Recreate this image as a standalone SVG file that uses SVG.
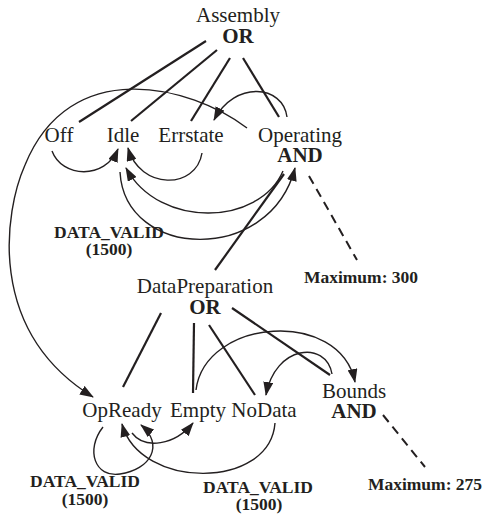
<svg xmlns="http://www.w3.org/2000/svg" width="486" height="516" viewBox="0 0 486 516">
<style>
text{font-family:"Liberation Serif","Times New Roman",serif;fill:#231f20;text-anchor:middle}
.n{font-size:21px}
.b{font-size:21px;font-weight:bold}
.a{font-size:17.5px;font-weight:bold}
.t{fill:none;stroke:#231f20;stroke-width:2.2}
.c{fill:none;stroke:#231f20;stroke-width:1.4}
.arr{marker-end:url(#ah)}
.d{fill:none;stroke:#231f20;stroke-width:2;stroke-dasharray:9 6}
</style>
<defs>
<marker id="ah" viewBox="0 0 14 10" refX="13" refY="5" markerWidth="14" markerHeight="10" markerUnits="userSpaceOnUse" orient="auto">
<path d="M0,0 L14,5 L0,10 Z" fill="#231f20"/>
</marker>
</defs>
<rect width="486" height="516" fill="#fff"/>
<g id="connectors">
<line class="t" x1="206" y1="41" x2="79" y2="122"/>
<line class="t" x1="217" y1="50" x2="131" y2="121"/>
<line class="t" x1="230" y1="58" x2="191" y2="121"/>
<line class="t" x1="243" y1="58" x2="279" y2="117"/>
<path class="c arr" d="M247,128 C190,85 70,55 25,165 C5,210 -15,330 93,397"/>
<path class="c arr" d="M287,117 C283,85 235,80 214,120"/>
<path class="c arr" d="M52,151 C62,178 105,180 118,149"/>
<path class="c arr" d="M202,153 C196,190 140,190 128,148"/>
<path class="c arr" d="M283,171 C260,225 160,230 126,168"/>
<path class="c arr" d="M120,172 C125,260 270,265 295,168"/>
<line class="t" x1="215" y1="270" x2="284" y2="174"/>
<line class="d" x1="309" y1="176" x2="357" y2="260"/>
<line class="t" x1="161" y1="313" x2="123" y2="387"/>
<line class="t" x1="194" y1="323" x2="193" y2="393"/>
<line class="t" x1="209" y1="325" x2="255" y2="395"/>
<line class="t" x1="232" y1="308" x2="330" y2="375"/>
<path class="c arr" d="M196,390 C205,318 340,308 355,382"/>
<path class="c arr" d="M332,374 C326,340 275,345 266,395"/>
<path class="c arr" d="M275,423 C270,490 140,490 122,424"/>
<path class="c arr" d="M103,427 C85,450 95,478 120,474 C150,470 165,445 141,425"/>
<path class="c arr" d="M132,433 C145,450 175,445 193,423"/>
<line class="d" x1="383" y1="415" x2="425" y2="467"/>
</g>
<g id="assembly"><text class="n" x="238" y="22">Assembly</text><text class="b" x="238" y="43">OR</text></g>
<g id="off"><text class="n" x="59" y="142">Off</text></g>
<g id="idle"><text class="n" x="123" y="142">Idle</text></g>
<g id="errstate"><text class="n" x="191" y="142">Errstate</text></g>
<g id="operating"><text class="n" x="300" y="142">Operating</text><text class="b" x="300" y="162">AND</text></g>
<g id="label1"><text class="a" x="109" y="238">DATA_VALID</text><text class="a" x="109" y="255">(1500)</text></g>
<g id="max300"><text class="a" x="361" y="283">Maximum: 300</text></g>
<g id="datapreparation"><text class="n" x="205" y="293">DataPreparation</text><text class="b" x="205" y="314">OR</text></g>
<g id="opready"><text class="n" x="122" y="417">OpReady</text></g>
<g id="empty"><text class="n" x="198" y="417">Empty</text></g>
<g id="nodata"><text class="n" x="264" y="417">NoData</text></g>
<g id="bounds"><text class="n" x="354" y="398">Bounds</text><text class="b" x="354" y="418">AND</text></g>
<g id="max275"><text class="a" x="425" y="490">Maximum: 275</text></g>
<g id="label2"><text class="a" x="85" y="487">DATA_VALID</text><text class="a" x="85" y="505">(1500)</text></g>
<g id="label3"><text class="a" x="258" y="493">DATA_VALID</text><text class="a" x="259" y="510">(1500)</text></g>
</svg>
